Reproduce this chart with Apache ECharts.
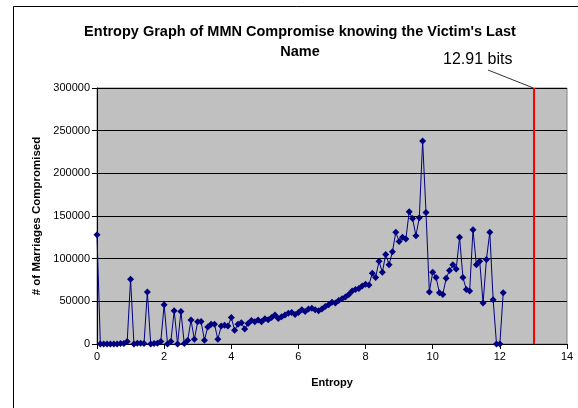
<!DOCTYPE html>
<html>
<head>
<meta charset="utf-8">
<script src="https://cdn.jsdelivr.net/npm/echarts@6/dist/echarts.min.js"></script>
<style>
html,body{margin:0;padding:0;background:#fff;}
#chart{width:578px;height:408px;}
</style>
</head>
<body>
<div id="chart"></div>
<script>
// Entropy values (x) are in steps of 0.1 from 0 to 12.1
const entropyStart = 0;
const entropyStep = 0.1;
const marriagesCompromised = [
  128000, 0, 0, 0, 0, 0, 0, 500, 500, 3000,
  76000, 0, 1000, 1000, 500, 61000, 0, 500, 1000, 3000,
  46000, 0, 3000, 39000, 0, 38000, 500, 4000, 28000, 5500,
  26000, 26500, 4500, 20000, 23000, 23000, 5500, 21000, 22000, 21000,
  31000, 16000, 23000, 25000, 17500, 24000, 27500, 26000, 28000, 26000,
  29500, 28500, 31000, 34000, 30000, 32000, 34000, 36000, 37000, 34500,
  37000, 40000, 38000, 41000, 42000, 40000, 39000, 41000, 44000, 46000,
  49000, 48000, 51000, 53000, 55000, 58000, 62000, 64000, 65000, 68000,
  70000, 69000, 83000, 78000, 97000, 84000, 105000, 93000, 108000, 131000,
  120000, 125000, 123000, 155000, 147000, 127000, 148000, 238000, 154000, 61000,
  84000, 78000, 60000, 58000, 77000, 86000, 93000, 88000, 125000, 78000,
  64000, 62000, 134000, 93000, 97000, 48000, 99000, 131000, 52000, 0,
  0, 60000
];
const markerEntropy = 13.0;
const markerLabel = '12.91 bits';
const titleText = "Entropy Graph of MMN Compromise knowing the Victim's Last\nName";
const xAxisName = 'Entropy';
const yAxisName = '# of Marriages Compromised';
const xTicks = {min: 0, max: 14, interval: 2};
const yTicks = {min: 0, max: 300000, interval: 50000};

const points = marriagesCompromised.map((v, i) => [+(entropyStart + i * entropyStep).toFixed(1), v]);
const FONT = 'Arial, "Liberation Sans", sans-serif';

const chart = echarts.init(document.getElementById('chart'), null, {renderer: 'canvas'});
const option = {
  animation: false,
  backgroundColor: '#ffffff',
  title: {
    text: titleText,
    left: 295, top: 17, textAlign: 'center',
    textStyle: {fontFamily: FONT, fontSize: 14.5, fontWeight: 'bold', color: '#000', lineHeight: 20}
  },
  grid: {
    left: 97, right: 11, top: 88, bottom: 64,
    show: true, backgroundColor: '#c0c0c0', borderColor: '#808080', borderWidth: 1
  },
  xAxis: {
    type: 'value', min: xTicks.min, max: xTicks.max, interval: xTicks.interval,
    name: xAxisName, nameLocation: 'middle', nameGap: 33,
    nameTextStyle: {fontFamily: FONT, fontSize: 11, fontWeight: 'bold', color: '#000'},
    axisLine: {show: true, onZero: false, lineStyle: {color: '#000', width: 1}},
    axisTick: {show: true, inside: false, length: 5, lineStyle: {color: '#000'}},
    axisLabel: {fontFamily: FONT, fontSize: 11, color: '#000', margin: 7},
    splitLine: {show: false}
  },
  yAxis: {
    type: 'value', min: yTicks.min, max: yTicks.max, interval: yTicks.interval,
    name: yAxisName, nameLocation: 'middle', nameGap: 54,
    nameTextStyle: {fontFamily: FONT, fontSize: 11.5, fontWeight: 'bold', color: '#000'},
    axisLine: {show: true, lineStyle: {color: '#000', width: 1}},
    axisTick: {show: true, inside: false, length: 5, lineStyle: {color: '#000'}},
    axisLabel: {fontFamily: FONT, fontSize: 11, color: '#000', margin: 7, formatter: v => String(v)},
    splitLine: {show: true, lineStyle: {color: '#000', width: 1}}
  },
  series: [{
    type: 'line',
    data: points,
    symbol: 'diamond',
    symbolSize: 7,
    showSymbol: true,
    lineStyle: {color: '#000080', width: 1},
    itemStyle: {color: '#000080'},
    markLine: {
      silent: true,
      symbol: 'none',
      label: {show: false},
      lineStyle: {color: '#ff0000', width: 2, type: 'solid'},
      data: [{xAxis: markerEntropy}]
    },
    z: 3
  }]
};
chart.setOption(option);

// annotation callout pointing at the top of the red marker line
const markerTop = chart.convertToPixel({gridIndex: 0}, [markerEntropy, yTicks.max]);
chart.setOption({
  graphic: [
    {
      type: 'rect', left: 11, top: 4, silent: true,
      shape: {width: 566, height: 420},
      style: {fill: 'none', stroke: '#000', lineWidth: 1}
    },
    {
      type: 'text', left: 443, top: 52,
      style: {text: markerLabel, font: '16px ' + FONT, fill: '#000'}
    },
    {
      type: 'line', silent: true,
      shape: {x1: 488, y1: 70, x2: markerTop[0], y2: markerTop[1]},
      style: {stroke: '#333', lineWidth: 1}
    }
  ]
});
</script>
</body>
</html>
